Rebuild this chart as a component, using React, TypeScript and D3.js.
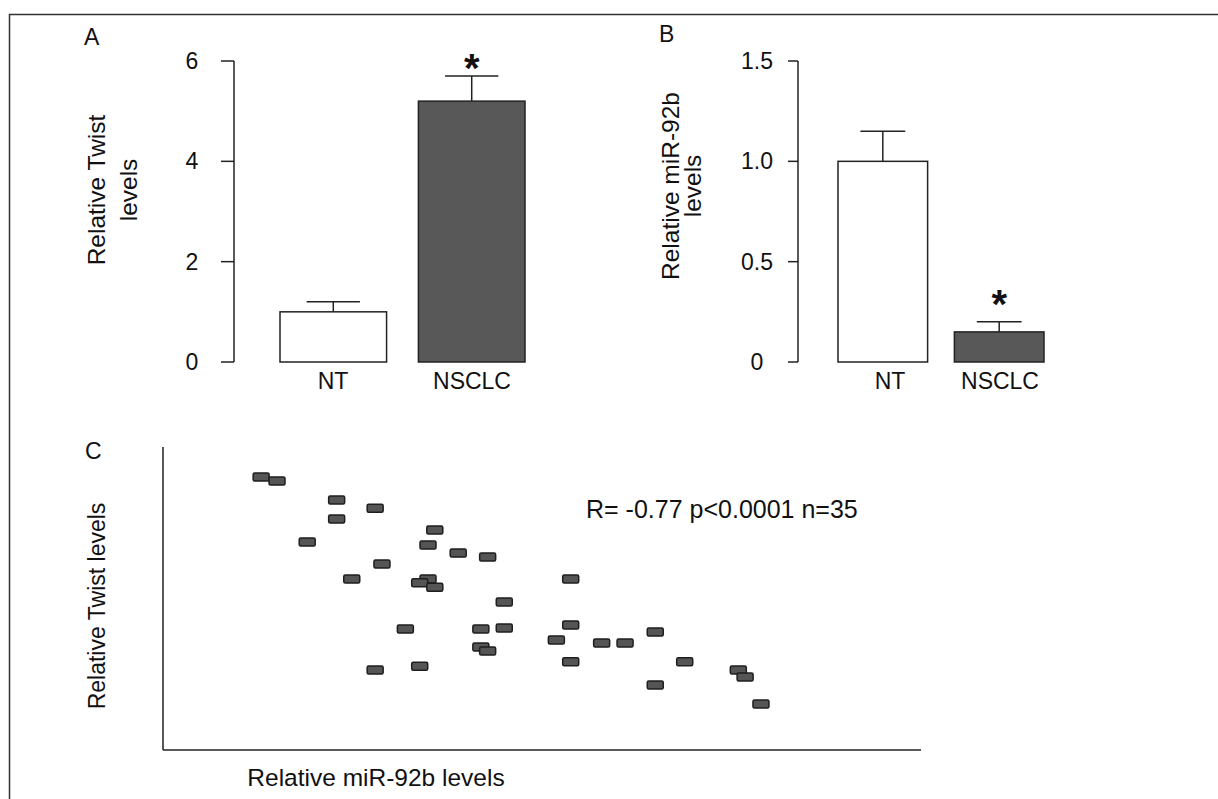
import React from "react";
import * as d3 from "d3";

const FONT = "'Liberation Sans', Arial, Helvetica, sans-serif";

// panel A / B: bar charts
const groups = ["NT", "NSCLC"];
const twistMeans = [1.0, 5.2];
const twistErrors = [0.2, 0.5];
const twistTicks = [0, 2, 4, 6];
const twistTickLabels = ["0", "2", "4", "6"];
const mirMeans = [1.0, 0.15];
const mirErrors = [0.15, 0.05];
const mirTicks = [0, 0.5, 1.0, 1.5];
const mirTickLabels = ["0", "0.5", "1.0", "1.5"];
const barFills = ["#ffffff", "#585858"];
const significant = [false, true];

// panel C: scatter (relative units, no ticks shown)
const mirLevels = [
  13.0, 15.1, 23.0, 28.1, 23.0, 36.0, 19.1, 35.1, 39.1, 43.0, 29.0, 25.0,
  35.1, 34.0, 36.0, 32.1, 42.1, 42.1, 43.0, 28.1, 34.0, 54.0, 45.2, 45.2,
  54.0, 52.1, 58.1, 61.2, 65.2, 54.0, 69.1, 65.2, 76.2, 77.1, 79.2,
];
const twistLevels = [
  89.5, 88.2, 82.0, 79.3, 75.7, 72.1, 68.2, 67.2, 64.6, 63.3, 61.0, 56.1,
  56.1, 54.8, 53.4, 39.7, 39.7, 33.8, 32.5, 26.2, 27.5, 56.1, 48.5, 40.0,
  41.0, 36.1, 35.1, 35.1, 38.7, 28.9, 28.9, 21.3, 26.2, 23.9, 15.1,
];
const corrText = "R= -0.77 p<0.0001 n=35";

function BarPanel(props) {
  const { letter, letterX, letterY, axisX, tickLen, tickLabelX, titleLines, titleXs, titleY,
    bandRange, yMax, means, errors, ticks, tickLabels, starGap, catLabelXs } = props;
  const y = d3.scaleLinear().domain([0, yMax]).range([362, 61]);
  const x = d3.scaleBand().domain(groups).range(bandRange).paddingInner(0.23).paddingOuter(0);
  const bw = x.bandwidth();
  return (
    <g>
      <text x={letterX} y={letterY} fontSize={23} fontFamily={FONT} fill="#111">{letter}</text>
      {titleLines.map((t, i) => (
        <text key={i} transform={`translate(${titleXs[i]},${titleY}) rotate(-90)`} textAnchor="middle"
          fontSize={24.5} fontFamily={FONT} fill="#111">{t}</text>
      ))}
      <line x1={axisX} x2={axisX} y1={y(yMax)} y2={y(0)} stroke="#222" strokeWidth={1.5} />
      {ticks.map((t, i) => (
        <g key={i}>
          <line x1={axisX - tickLen} x2={axisX} y1={y(t)} y2={y(t)} stroke="#222" strokeWidth={1.5} />
          <text x={tickLabelX} y={y(t) + 8} textAnchor="middle" fontSize={23} fontFamily={FONT} fill="#111">{tickLabels[i]}</text>
        </g>
      ))}
      {groups.map((g, i) => {
        const x0 = x(g);
        const cx = x0 + bw / 2;
        const top = y(means[i]);
        const etop = y(means[i] + errors[i]);
        return (
          <g key={g}>
            <line x1={cx} x2={cx} y1={top} y2={etop} stroke="#222" strokeWidth={1.5} />
            <line x1={cx - bw / 4} x2={cx + bw / 4} y1={etop} y2={etop} stroke="#222" strokeWidth={1.5} />
            <rect x={x0} y={top} width={bw} height={y(0) - top} fill={barFills[i]} stroke="#222" strokeWidth={1.5} />
            {significant[i] && (
              <text x={cx} y={etop - starGap} textAnchor="middle" fontSize={40} fontWeight="bold" fontFamily={FONT} fill="#111">*</text>
            )}
            <text x={catLabelXs[i]} y={389} textAnchor="middle" fontSize={23} fontFamily={FONT} fill="#111">{g}</text>
          </g>
        );
      })}
    </g>
  );
}

function Scatter() {
  const x = d3.scaleLinear().domain([0, 100]).range([163, 918]);
  const y = d3.scaleLinear().domain([0, 100]).range([750, 445]);
  const pts = d3.zip(mirLevels, twistLevels);
  return (
    <g>
      <text x={85} y={459} fontSize={23} fontFamily={FONT} fill="#111">C</text>
      <text transform={`translate(105,606) rotate(-90)`} textAnchor="middle" fontSize={23} fontFamily={FONT} fill="#111">Relative Twist levels</text>
      <line x1={x(0)} x2={x(0)} y1={447} y2={y(0)} stroke="#222" strokeWidth={1.5} />
      <line x1={x(0)} x2={921} y1={y(0)} y2={y(0)} stroke="#222" strokeWidth={1.5} />
      <text x={376} y={786} textAnchor="middle" fontSize={24.5} fontFamily={FONT} fill="#111">Relative miR-92b levels</text>
      <text x={586} y={518} fontSize={25} fontFamily={FONT} fill="#111">{corrText}</text>
      {pts.map((p, i) => (
        <rect key={i} x={x(p[0]) - 8} y={y(p[1]) - 4} width={16} height={8} rx={1.5}
          fill="#555" stroke="#1e1e1e" strokeWidth={1.5} />
      ))}
    </g>
  );
}

export default function App() {
  return (
    <svg width={1218} height={799} style={{ position: "absolute", left: 0, top: 0, background: "#fff" }}>
      <rect x={0} y={0} width={1218} height={799} fill="#fff" />
      <rect x={9.5} y={14.5} width={1300} height={900} fill="none" stroke="#333" strokeWidth={1.5} />
      <BarPanel letter="A" letterX={84} letterY={45} axisX={234} tickLen={13} tickLabelX={192}
        titleLines={["Relative Twist", "levels"]} titleXs={[105, 137]} titleY={190}
        bandRange={[280, 525]} yMax={6} means={twistMeans} errors={twistErrors}
        ticks={twistTicks} tickLabels={twistTickLabels} starGap={-6} catLabelXs={[333, 472]} />
      <BarPanel letter="B" letterX={659} letterY={42} axisX={798} tickLen={10} tickLabelX={757}
        titleLines={["Relative miR-92b", "levels"]} titleXs={[679, 701]} titleY={186}
        bandRange={[838, 1044]} yMax={1.5} means={mirMeans} errors={mirErrors}
        ticks={mirTicks} tickLabels={mirTickLabels} starGap={4} catLabelXs={[890, 1000]} />
      <Scatter />
    </svg>
  );
}
